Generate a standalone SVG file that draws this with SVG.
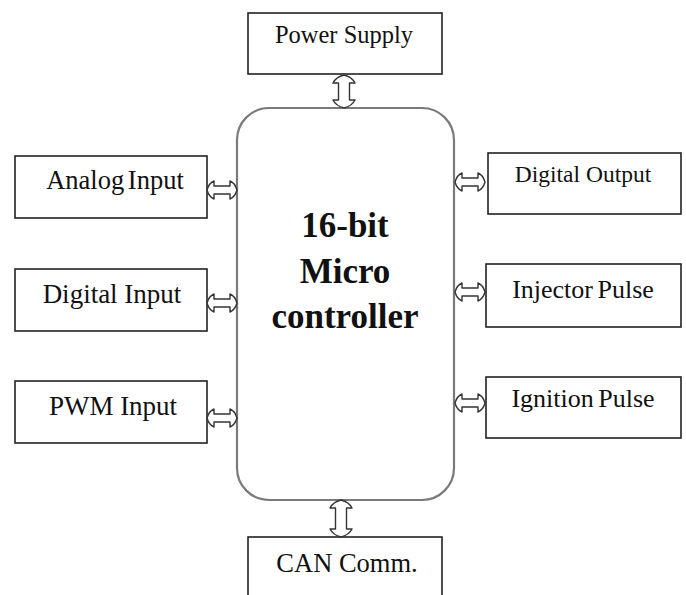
<svg xmlns="http://www.w3.org/2000/svg" xmlns:xlink="http://www.w3.org/1999/xlink" width="686" height="595" viewBox="0 0 686 595">
<style>
.box{fill:#fff;stroke:#222;stroke-width:1.6}
.mcu{fill:#fff;stroke:#7a7a7a;stroke-width:2.2}
.lbl{font-family:'Liberation Serif','DejaVu Serif',serif;font-size:26px;fill:#111;text-anchor:middle}
.big{font-family:'Liberation Serif','DejaVu Serif',serif;font-size:35px;font-weight:bold;fill:#111;text-anchor:middle}
.arr{fill:#fff;stroke:#333;stroke-width:1.4;stroke-linejoin:round}
</style>
<defs>
<path id="ha" class="arr" d="M0 0 Q2 -7 7 -9 L7 -4 L23 -4 L23 -9 Q28 -7 30 0 Q28 7 23 9 L23 4 L7 4 L7 9 Q2 7 0 0 Z"/>
</defs>
<rect width="686" height="595" fill="#fff"/>
<g id="mcu">
<rect class="mcu" x="237" y="108" width="217" height="392" rx="32" ry="32"/>
<text class="big" x="345" y="237">16-bit</text>
<text class="big" x="345" y="283">Micro</text>
<text class="big" x="345" y="328">controller</text>
</g>
<g id="power-supply">
<rect class="box" x="248" y="13" width="194" height="61"/>
<text class="lbl" x="344" y="43" style="font-size:24.5px">Power Supply</text>
</g>
<g id="analog-input">
<rect class="box" x="15" y="156" width="192" height="62"/>
<text class="lbl" x="115" y="189" style="font-size:26.5px;word-spacing:-3px">Analog Input</text>
</g>
<g id="digital-input">
<rect class="box" x="15" y="269" width="192" height="62"/>
<text class="lbl" x="112" y="303" style="font-size:27px">Digital Input</text>
</g>
<g id="pwm-input">
<rect class="box" x="15" y="381" width="192" height="62"/>
<text class="lbl" x="113" y="415" style="font-size:27px">PWM Input</text>
</g>
<g id="digital-output">
<rect class="box" x="488" y="153" width="193" height="61"/>
<text class="lbl" x="583" y="182" style="font-size:23.5px">Digital Output</text>
</g>
<g id="injector-pulse">
<rect class="box" x="486" y="264" width="195" height="63"/>
<text class="lbl" x="583" y="298" style="font-size:26px;word-spacing:-2px">Injector Pulse</text>
</g>
<g id="ignition-pulse">
<rect class="box" x="486" y="377" width="195" height="61"/>
<text class="lbl" x="583" y="407" style="font-size:26px;word-spacing:-2px">Ignition Pulse</text>
</g>
<g id="can-comm">
<rect class="box" x="248" y="537" width="194" height="70"/>
<text class="lbl" x="347" y="572" style="font-size:26.5px">CAN Comm.</text>
</g>
<g id="connectors">
<path class="arr" d="M344 75 Q336 77 333 83 L338.5 83 L338.5 100 L333 100 Q336 106 344 108 Q352 106 355 100 L349.5 100 L349.5 83 L355 83 Q352 77 344 75 Z"/>
<path class="arr" d="M341 500 Q333 502 330 508 L335.5 508 L335.5 529 L330 529 Q333 535 341 537 Q349 535 352 529 L346.5 529 L346.5 508 L352 508 Q349 502 341 500 Z"/>
<use xlink:href="#ha" x="207" y="190"/>
<use xlink:href="#ha" x="207" y="303"/>
<use xlink:href="#ha" x="207" y="418"/>
<use xlink:href="#ha" x="455" y="182"/>
<use xlink:href="#ha" x="455" y="292"/>
<use xlink:href="#ha" x="455" y="403"/>
</g>
</svg>
